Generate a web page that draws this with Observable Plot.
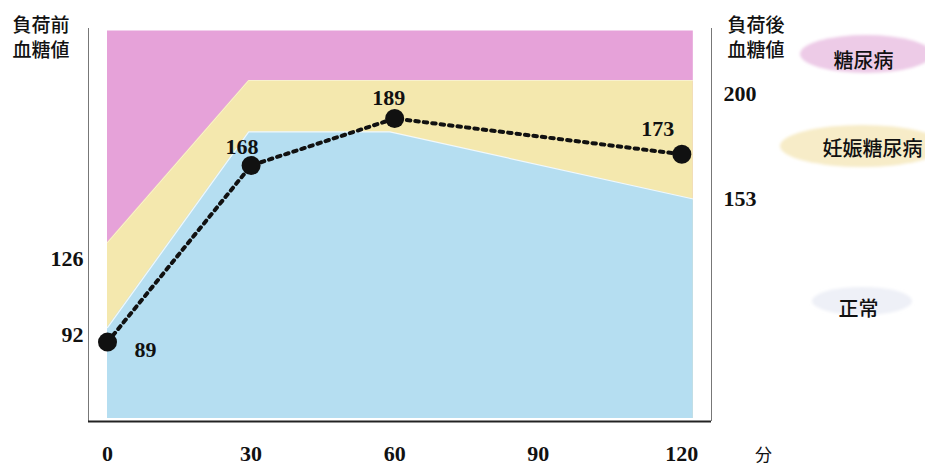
<!DOCTYPE html>
<html>
<head>
<meta charset="utf-8">
<script src="https://cdn.jsdelivr.net/npm/d3@7"></script>
<script src="https://cdn.jsdelivr.net/npm/@observablehq/plot@0.6"></script>
<style>
  html, body { margin: 0; padding: 0; background: #fff; }
</style>
</head>
<body>
<div id="chart"></div>
<script>
// ---- data ----
const times = [0, 30, 60, 120];            // minutes
const glucose = [89, 168, 189, 173];       // mg/dL
const pointLabels = ["89", "168", "189", "173"];

// zone boundaries (as drawn in the picture)
const zoneX = [0, 29.5, 59, 122.4];
const normalUpper = [95.5, 183, 183, 153];
const gdmUpper = [133.5, 206, 206, 206];
const zoneFloor = 54.8;
const zoneCeil = 228.1;

const xTicks = [0, 30, 60, 90, 120];
const leftTicks = [92, 126];
const rightTicks = [153, 200];

const leftTitle = "負荷前\n血糖値";
const rightTitle = "負荷後\n血糖値";
const legendNames = ["糖尿病", "妊娠糖尿病", "正常"];
const unitLabel = "分";

// ---- derived tables ----
const points = times.map((t, i) => ({t, v: glucose[i], label: pointLabels[i]}));
const zones = zoneX.map((x, i) => ({x, normal: normalUpper[i], gdm: gdmUpper[i]}));

const xDomain = [-3.97, 126.2];
const yDomain = [53.5, 229.25];

const cjk = "'Noto Sans CJK JP', 'Noto Sans', sans-serif";
const serif = "'Liberation Serif', 'DejaVu Serif', serif";

const pink = "#e6a2d9", yellow = "#f4e8ae", blue = "#b5def1";

function ellipses(index, scales, values, dims) {
  const g = d3.create("svg:g");
  const defs = g.append("defs");
  defs.append("filter").attr("id", "soft").attr("x", "-20%").attr("y", "-40%").attr("width", "140%").attr("height", "180%")
    .append("feGaussianBlur").attr("stdDeviation", 1.6);
  const R = dims.width - dims.marginRight;
  const specs = [
    {dx: 155, cy: 54, rx: 66, ry: 19, fill: "#edcbe7"},
    {dx: 151, cy: 146, rx: 82, ry: 21, fill: "#f7ecc8"},
    {dx: 151, cy: 301, rx: 50, ry: 14, fill: "#eef0f7"}
  ];
  for (const s of specs) {
    g.append("ellipse").attr("cx", R + s.dx).attr("cy", s.cy).attr("rx", s.rx).attr("ry", s.ry)
      .attr("fill", s.fill).attr("filter", "url(#soft)");
  }
  return g.node();
}

const numFont = {fontFamily: serif, fontSize: 22, fontWeight: "bold", fill: "#111"};

const labelMark = (i, dx, dy) => Plot.text([points[i]], {x: "t", y: "v", text: "label", dx, dy, ...numFont});

const cjkText = (text, frameAnchor, dx, dy, extra = {}) => Plot.text([text], {
  frameAnchor, dx, dy, fontFamily: cjk, fontSize: 20, fontWeight: 500, fill: "#111", ...extra
});

const chart = Plot.plot({
  width: 925,
  height: 465,
  marginLeft: 88,
  marginRight: 214,
  marginTop: 28,
  marginBottom: 44,
  x: {domain: xDomain},
  y: {domain: yDomain},
  style: {fontFamily: serif, fontSize: "22px", color: "#111", background: "#fff"},
  marks: [
    // zones
    Plot.areaY(zones, {x: "x", y1: zoneFloor, y2: zoneCeil, fill: pink}),
    Plot.areaY(zones, {x: "x", y1: zoneFloor, y2: "gdm", fill: yellow}),
    Plot.areaY(zones, {x: "x", y1: zoneFloor, y2: "normal", fill: blue}),
    Plot.line(zones, {x: "x", y: "normal", stroke: "#fff", strokeWidth: 1.2, strokeOpacity: 0.8}),
    Plot.line(zones, {x: "x", y: "gdm", stroke: "#fff", strokeWidth: 0.8, strokeOpacity: 0.5}),
    // frame
    Plot.ruleX([xDomain[0], xDomain[1]], {stroke: "#777", strokeWidth: 1}),
    Plot.ruleY([yDomain[0]], {stroke: "#222", strokeWidth: 2.2}),
    // axes
    Plot.axisX(xTicks, {anchor: "bottom", tickSize: 0, tickPadding: 24, label: null, ...numFont}),
    Plot.axisY(leftTicks, {anchor: "left", tickSize: 0, tickPadding: 5, label: null, ...numFont}),
    Plot.axisY(rightTicks, {anchor: "right", tickSize: 0, tickPadding: 12, label: null, ...numFont}),
    // data
    Plot.line(points, {x: "t", y: "v", stroke: "#111", strokeWidth: 4, strokeDasharray: "3.5,5"}),
    Plot.dot(points, {x: "t", y: "v", r: 9.5, fill: "#111"}),
    labelMark(0, 38, 8),
    labelMark(1, -9, -19),
    labelMark(2, -6, -21),
    labelMark(3, -24, -25),
    // titles
    cjkText(leftTitle, "top-left", -76, 8, {textAnchor: "start", lineAnchor: "middle", lineHeight: 1.32, fontSize: 19}),
    cjkText(rightTitle, "top-right", 16, 8, {textAnchor: "start", lineAnchor: "middle", lineHeight: 1.32, fontSize: 19}),
    // legend pills
    ellipses,
    cjkText(legendNames[0], "top-right", 152, 25, {textAnchor: "middle"}),
    cjkText(legendNames[1], "top-right", 161, 113, {textAnchor: "middle"}),
    cjkText(legendNames[2], "top-right", 147, 273, {textAnchor: "middle"}),
    cjkText(unitLabel, "bottom-right", 52, 39, {textAnchor: "middle", fontSize: 17, fontWeight: 400})
  ]
});

document.getElementById("chart").append(chart);
</script>
</body>
</html>
